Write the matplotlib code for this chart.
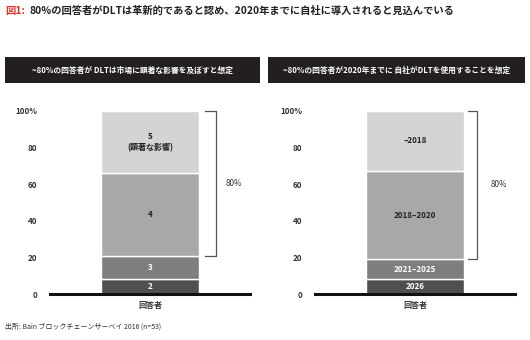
import matplotlib
matplotlib.use("Agg")
import matplotlib.pyplot as plt
from matplotlib.patches import Rectangle

plt.rcParams['font.family'] = ['Noto Sans CJK JP', 'DejaVu Sans']

# ---- data ----
title_prefix = "図1:"
title_text = "80%の回答者がDLTは革新的であると認め、2020年までに自社に導入されると見込んでいる"
left_header = "~80%の回答者が DLTは市場に顕著な影響を及ぼすと想定"
right_header = "~80%の回答者が2020年までに 自社がDLTを使用することを想定"
category = ["回答者"]
left_labels = ["2", "3", "4", "5\n(顕著な影響)"]
left_values = [8, 13, 45, 34]
right_labels = ["2026", "2021–2025", "2018–2020", "–2018"]
right_values = [8, 11, 48, 33]
yticks = [0, 20, 40, 60, 80, 100]
ytick_labels = ["0", "20", "40", "60", "80", "100%"]
bracket_label = "80%"
left_bracket = (21, 100)
right_bracket = (19, 100)
source = "出所: Bain ブロックチェーンサーベイ 2016 (n=53)"

seg_colors = ["#4f4f51", "#7e7e80", "#a8a8aa", "#d4d4d6"]
text_colors = ["white", "white", "#222222", "#222222"]

W, H = 530, 340
fig = plt.figure(figsize=(W / 100, H / 100), dpi=100)
fig.patch.set_facecolor("white")


def fx(px):
    return px / W


def fy(py):
    return 1 - py / H


# title
fig.text(fx(5), fy(11), title_prefix, color="#e2332b", fontsize=7.5,
         fontweight="bold", va="center", ha="left")
fig.text(fx(29), fy(11), title_text, color="#231f20", fontsize=7.4,
         fontweight="bold", va="center", ha="left")

# header boxes
for (x0, x1, txt) in [(5, 260, left_header), (268, 525, right_header)]:
    fig.patches.append(Rectangle((fx(x0), fy(83)), fx(x1 - x0), (83 - 57) / H,
                                 transform=fig.transFigure, facecolor="#231f20",
                                 edgecolor="none"))
    fig.text(fx((x0 + x1) / 2), fy(70), txt, color="white", fontsize=5.6,
             fontweight="bold", ha="center", va="center")


def panel(x_left, labels, values, bracket, br_x):
    top_px, base_px = 110.7, 294
    ax = fig.add_axes([fx(x_left), fy(base_px), fx(200), (base_px - top_px) / H])
    ax.set_xlim(-1, 1)
    ax.set_ylim(0, 100)
    bottom = 0
    for lab, v, c, tc in zip(labels, values, seg_colors, text_colors):
        ax.bar(category, [v], bottom=bottom, width=0.98, color=c,
               edgecolor="white", linewidth=1.0)
        ax.text(0, bottom + v / 2, lab, ha="center", va="center", fontsize=5.8,
                color=tc, fontweight="bold", linespacing=1.3)
        bottom += v
    ax.set_xticks([0])
    ax.set_xticklabels(category, fontsize=5.8, fontweight="bold", color="#333333")
    ax.set_xlim(-1, 1)
    ax.set_yticks(yticks)
    ax.set_yticklabels(ytick_labels, fontsize=5.8, fontweight="bold", color="#333333")
    ax.tick_params(length=0)
    ax.tick_params(axis="y", pad=9)
    ax.tick_params(axis="x", pad=5)
    for s in ax.spines.values():
        s.set_visible(False)
    ax.axhline(0, color="#111111", lw=2.2, clip_on=False, zorder=5)
    b0, b1 = bracket
    x0, x1 = br_x
    ax.plot([x0, x1, x1, x0], [b1, b1, b0, b0], color="#555555", lw=0.9,
            clip_on=False)
    ax.text(0.76, (b0 + b1) / 2, bracket_label, ha="left", va="center",
            fontsize=5.8, color="#333333")
    ax.patch.set_alpha(0)
    return ax


panel(50, left_labels, left_values, left_bracket, (0.55, 0.66))
panel(315, right_labels, right_values, right_bracket, (0.53, 0.62))

fig.text(fx(5), fy(326.5), source, fontsize=5.0, color="#333333",
         ha="left", va="center")

fig.savefig("out.png", dpi=100)
